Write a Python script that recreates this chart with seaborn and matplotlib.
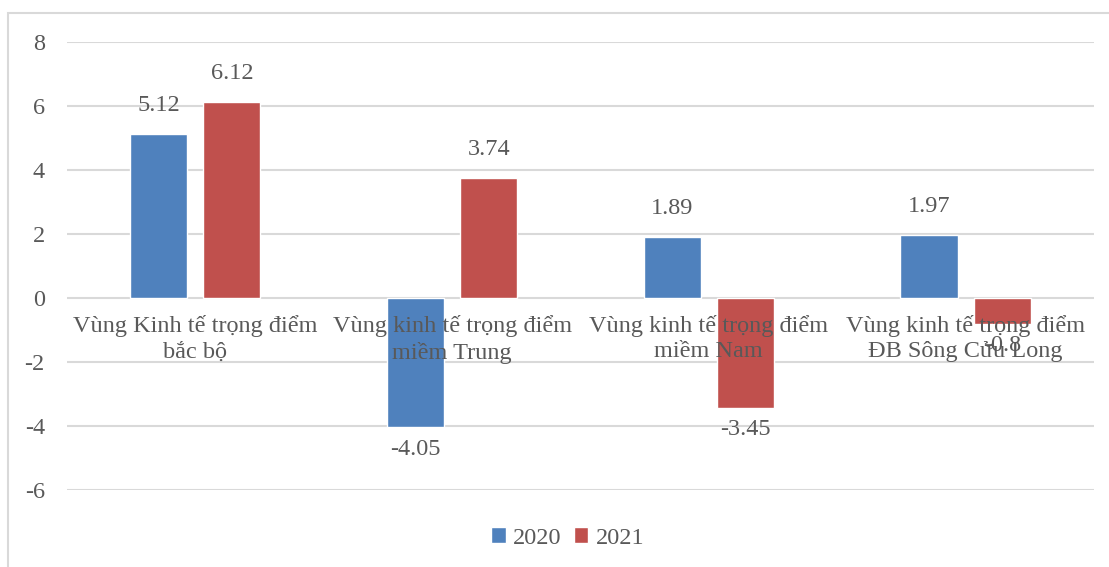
import matplotlib
matplotlib.use("Agg")
import matplotlib.pyplot as plt
import seaborn as sns
import pandas as pd
from matplotlib.patches import Rectangle

categories = ["Vùng Kinh tế trọng điểm\nbắc bộ",
              "Vùng kinh tế trọng điểm\nmiềm Trung",
              "Vùng kinh tế trọng điểm\nmiềm Nam",
              "Vùng kinh tế trọng điểm\nĐB Sông Cửu Long"]
values_2020 = [5.12, -4.05, 1.89, 1.97]
values_2021 = [6.12, 3.74, -3.45, -0.8]
series = ["2020", "2021"]
y_ticks = [-6, -4, -2, 0, 2, 4, 6, 8]

df = pd.DataFrame({
    "cat": categories * 2,
    "year": [series[0]] * 4 + [series[1]] * 4,
    "val": values_2020 + values_2021,
})

sns.set_theme(style="white")
plt.rcParams['font.family'] = ['Liberation Serif', 'DejaVu Serif']
text_color = "#595959"
grid_color = "#D9D9D9"
fs = 17.5

fig = plt.figure(figsize=(11.09, 5.67), dpi=100)
ax = fig.add_axes([0.0604, 0.136, 0.926, 0.790])

palette = {"2020": "#4F81BD", "2021": "#C0504D"}
sns.barplot(data=df, x="cat", y="val", hue="year", order=categories,
            hue_order=series, palette=palette, width=0.57, gap=0.22,
            saturation=1, ax=ax, legend=True, errorbar=None)

ax.set_ylim(-6, 8)
ax.set_xlim(-0.5, 3.5)
ax.set_yticks(y_ticks)
ax.set_yticklabels([str(t) for t in y_ticks])
ax.yaxis.grid(True, color=grid_color, linewidth=1.5)
ax.set_axisbelow(True)
ax.xaxis.set_zorder(3)
for s in ax.spines.values():
    s.set_visible(False)
ax.spines['bottom'].set_position(('data', 0))
ax.tick_params(axis='y', length=0, labelsize=fs, labelcolor=text_color, pad=16)
ax.tick_params(axis='x', length=0, labelsize=fs, labelcolor=text_color, pad=12)
for lab in ax.get_xticklabels():
    lab.set_linespacing(1.3)
ax.set_xlabel("")
ax.set_ylabel("")

for cont in ax.containers:
    vals = list(cont.datavalues)
    ax.bar_label(cont, labels=[f"{v:g}" if v > 0 else "" for v in vals],
                 padding=13, fontsize=fs, color=text_color, zorder=4)
    ax.bar_label(cont, labels=[f"{v:g}" if v < 0 else "" for v in vals],
                 padding=8, fontsize=fs, color=text_color, zorder=4)

handles, labels = ax.get_legend_handles_labels()
ax.legend_.remove()
fig.legend(handles, labels, loc="center", bbox_to_anchor=(0.512, 0.051), ncol=2,
           frameon=False, fontsize=fs, labelcolor=text_color,
           handlelength=0.6, handleheight=0.6, handletextpad=0.3, columnspacing=0.5)

fig.patches.append(Rectangle((8 / 1109, -0.01), 1.0, 1 - 13 / 567 + 0.01,
                             transform=fig.transFigure, fill=False,
                             edgecolor="#D9D9D9", linewidth=1.5))

fig.savefig("out.png", dpi=100)
